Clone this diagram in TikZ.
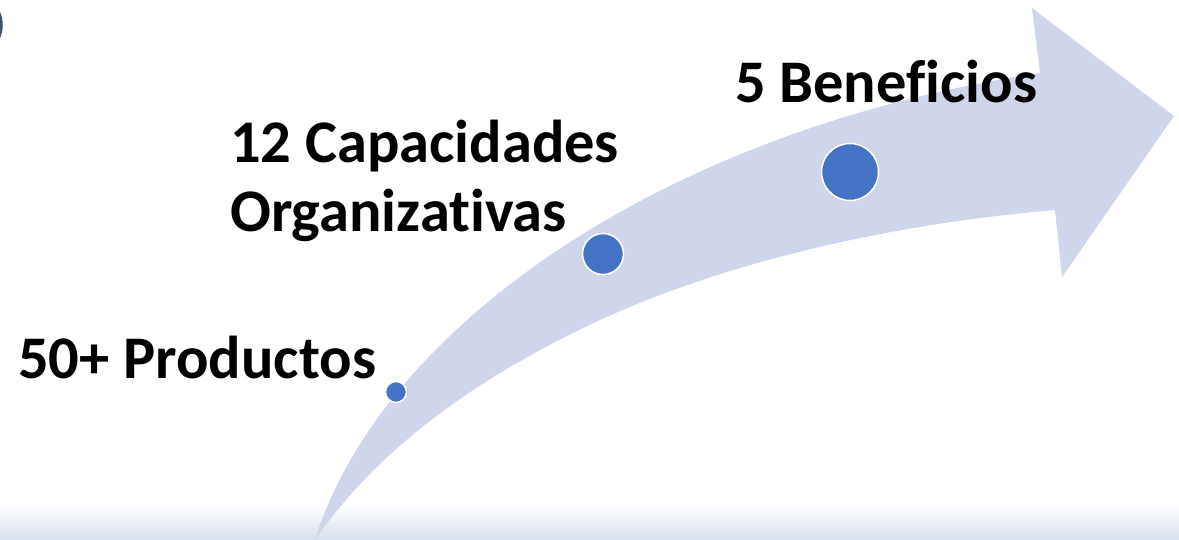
\documentclass[tikz,border=0pt]{standalone}
\usepackage{fontspec}
\setmainfont[Ligatures=NoCommon]{Carlito}
\usepackage{tikz}
\usetikzlibrary{positioning}
\definecolor{bandblue}{RGB}{207,213,234}
\definecolor{dotblue}{RGB}{68,114,196}
\definecolor{ringslate}{RGB}{62,80,112}
\definecolor{floorblue}{RGB}{216,225,240}

\begin{document}
\begin{tikzpicture}[x=1pt,y=-1pt,
    milestone/.style={circle,fill=dotblue,draw=white,line width=1.5pt,inner sep=0pt},
    caption/.style={font=\fontsize{60.5}{69}\selectfont\bfseries,inner sep=0pt,align=left}
]
    \useasboundingbox (0,0) rectangle (1179,540);
    % Floor shading
    \shade[top color=white,bottom color=floorblue] (0,503) rectangle (1179,540);
    % Corner ring
    \draw[ringslate,line width=2.5pt] (-30,25) circle (31.5pt);

    % Curved arrow
    \fill[bandblue] (315,540) .. controls (380,330) and (660,130) .. (1040,73)
        -- (1032,8) -- (1174,116) -- (1062,277) -- (1055,210)
        .. controls (880,225) and (720,265) .. (600,320)
        .. controls (460,385) and (370,460) .. (315,540) -- cycle;

    % Milestones
    \node[milestone,minimum size=21pt] (m1) at (396,392) {};
    \node[milestone,minimum size=41pt] (m2) at (603,254) {};
    \node[milestone,minimum size=57pt] (m3) at (850,172) {};

    \node[caption,anchor=base west] (products) at (18,378) {50+ Productos};
    \node[caption,anchor=base west] (capacities) at (230,232) {12 Capacidades\\Organizativas};
    \node[caption,anchor=base west] (benefits) at (735,103) {5 Beneficios};
\end{tikzpicture}
\end{document}
